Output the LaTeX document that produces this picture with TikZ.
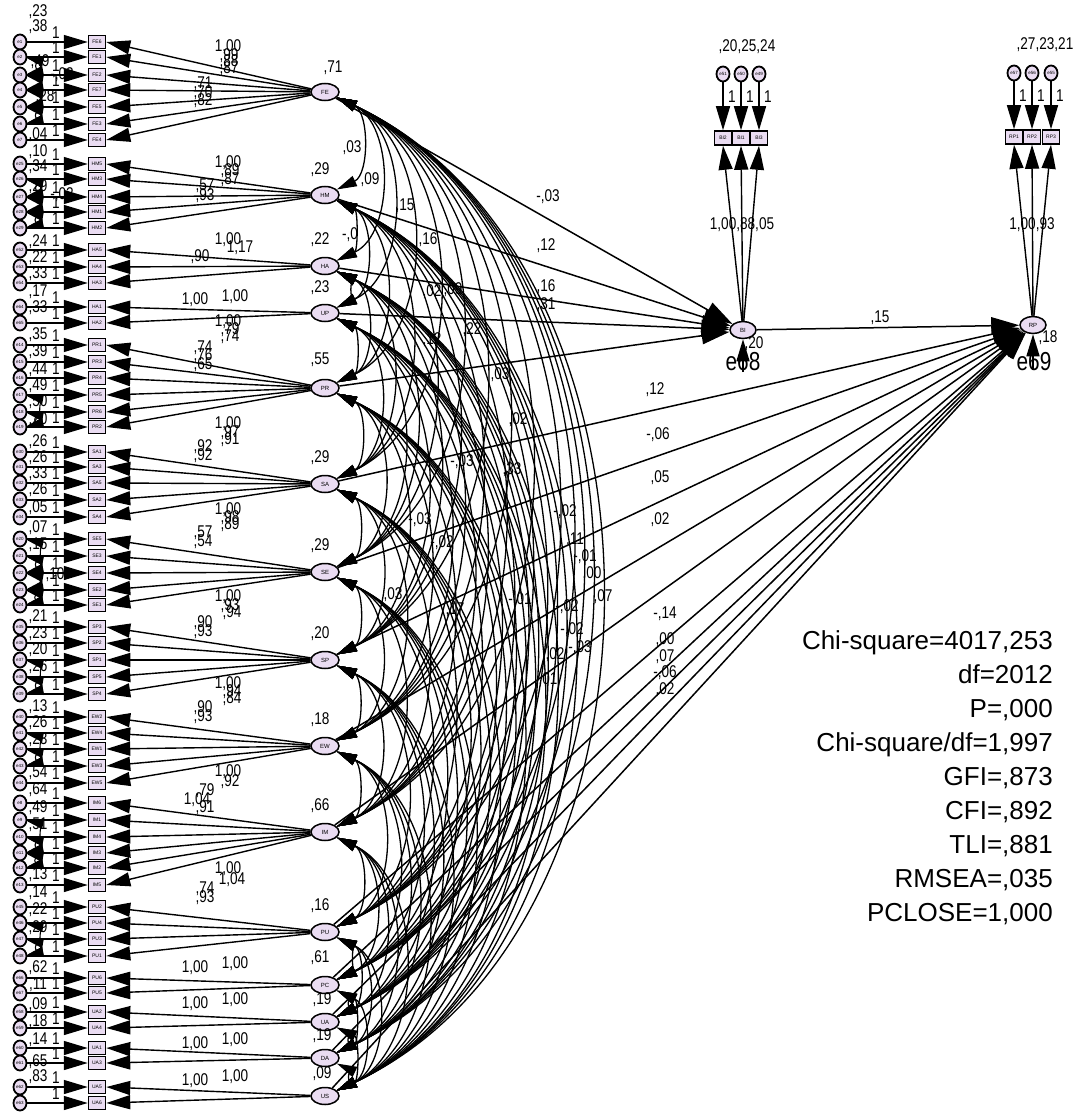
\documentclass[tikz,border=0pt]{standalone}
\usepackage{fontspec}
\setmainfont{Liberation Sans}
\newfontfamily\narrow[FakeStretch=0.8]{Liberation Sans}
\usetikzlibrary{arrows.meta,shapes.geometric}
\definecolor{lav}{HTML}{EADCF2}
\begin{document}
\begin{tikzpicture}[x=1pt,y=-1pt,
  errnode/.style={ellipse,draw,line width=1.8pt,fill=lav,minimum width=13pt,minimum height=15pt,inner sep=0pt,font=\fontsize{4.5}{5}\selectfont},
  obsnode/.style={rectangle,draw,line width=1.5pt,fill=lav,minimum width=17pt,minimum height=13pt,inner sep=0pt,font=\fontsize{5}{5}\selectfont},
  latnode/.style={ellipse,draw,line width=1.5pt,fill=lav,minimum width=28pt,minimum height=17pt,inner sep=0pt,font=\fontsize{6}{6}\selectfont},
  bigarr/.style={line width=1.4pt,-{Triangle[length=24pt,width=14pt]}},
  covarc/.style={line width=1.3pt,{Triangle[length=20pt,width=11pt]}-{Triangle[length=20pt,width=11pt]}},
  ecovarc/.style={line width=1.1pt,{Triangle[length=16pt,width=10pt]}-{Triangle[length=16pt,width=10pt]}},
  sarr/.style={line width=1.5pt,-{Triangle[length=28pt,width=17pt]}},
  lb/.style={font=\narrow\fontsize{17}{17}\selectfont,inner sep=0pt},
  fitt/.style={font=\fontsize{26}{26}\selectfont,inner sep=0pt,anchor=base east}]
\fill[white] (0,0) rectangle (1087,1113);
\useasboundingbox (0,0) rectangle (1087,1113);
% latent variables
\foreach \L/\y in {FE/92,HM/195,HA/266,UP/313,PR/388,SA/484,SE/572,SP/660,EW/746,IM/832,PU/932,PC/985,UA/1022,DA/1058,US/1096}
  \node[latnode] (\L) at (325,\y) {\L};
\node[latnode,minimum width=26pt] (BI) at (743,330) {BI};
\node[latnode,minimum width=26pt] (RP) at (1033,325) {RP};
% latent covariances
\foreach \aa [count=\i] in {FE,HM,HA,UP,PR,SA,SE,SP,EW,IM,PU,PC,UA,DA,US} {
  \foreach \cc [count=\j] in {FE,HM,HA,UP,PR,SA,SE,SP,EW,IM,PU,PC,UA,DA,US} {
    \ifnum\j>\i \draw[covarc] (\aa) to[bend left=65] (\cc); \fi
  }
}
% structural paths
\foreach \aa in {FE,HM,HA,UP,PR} \draw[sarr] (\aa) -- (BI);
\foreach \aa in {SA,SE,SP,EW,IM,PU,PC,UA,DA,US} \draw[sarr] (\aa) -- (RP);
\draw[sarr] (BI) -- (RP);
% indicators of exogenous latents
\foreach \ee/\bb/\y/\LL in {e1/FE6/42/FE,e2/FE1/57/FE,e3/FE2/75/FE,e4/FE7/90/FE,e5/FE5/107/FE,e6/FE3/124/FE,e7/FE4/140/FE,
 e25/HM5/164/HM,e26/HM3/179/HM,e27/HM4/197/HM,e28/HM1/212/HM,e29/HM2/228/HM,
 e52/HA5/250/HA,e53/HA4/267/HA,e54/HA3/283/HA,e64/HA1/307/UP,e65/HA2/323/UP,
 e14/PR1/345/PR,e15/PR3/362/PR,e16/PR4/378/PR,e17/PR5/395/PR,e18/PR6/412/PR,e19/PR2/427/PR,
 e30/SA1/452/SA,e31/SA3/467/SA,e32/SA5/483/SA,e33/SA2/500/SA,e34/SA4/517/SA,
 e20/SE5/539/SE,e21/SE3/556/SE,e22/SE4/573/SE,e23/SE2/590/SE,e24/SE1/605/SE,
 e35/SP3/627/SP,e36/SP2/643/SP,e37/SP1/660/SP,e38/SP5/677/SP,e39/SP4/694/SP,
 e40/EW2/717/EW,e41/EW4/733/EW,e42/EW1/749/EW,e43/EW3/766/EW,e44/EW5/783/EW,
 e8/IM6/803/IM,e9/IM1/820/IM,e10/IM4/837/IM,e11/IM3/853/IM,e12/IM2/868/IM,e13/IM5/885/IM,
 e45/PU2/907/PU,e46/PU4/923/PU,e47/PU3/939/PU,e48/PU1/956/PU,
 e66/PU6/978/PC,e67/PU5/993/PC,e58/UA2/1012/UA,e59/UA4/1028/UA,
 e60/UA1/1048/DA,e61/UA3/1063/DA,e62/UA5/1087/US,e63/UA6/1103/US}
{
  \node[errnode] (\ee) at (20,\y) {\ee};
  \node[obsnode] (\bb) at (97,\y) {\bb};
  \draw[bigarr] (\ee) -- (\bb);
  \draw[bigarr] (\LL) -- (\bb.east);
  \node[lb] (one\ee) at (56,\y-9) {1};
}
% error covariances
\foreach \aa/\cc in {e2/e4,e3/e5,e4/e6,e5/e6,e2/e3,e26/e28,e27/e29,e28/e29,e26/e27,e17/e19,e18/e19,
  e20/e22,e21/e23,e22/e24,e23/e24,e21/e22,e38/e39,e37/e39,e42/e43,e41/e43,e9/e11,e10/e12,e11/e12,e10/e11,e47/e48,e46/e48}
  \draw[ecovarc] (\aa) to[bend left=80] (\cc);
% endogenous indicators
\foreach \ee/\bb/\x in {e51/BI2/723,e50/BI1/741,e49/BI3/759} {
  \node[errnode] (\ee) at (\x,74) {\ee};
  \node[obsnode,minimum height=14pt] (\bb) at (\x,138) {\bb};
  \draw[bigarr] (\ee.south) -- (\bb.north);
  \draw[bigarr] (BI) -- (\bb.south);
  \node[lb] (one\ee) at (\x+9,97) {1};
}
\foreach \ee/\bb/\x in {e57/RP1/1014,e56/RP2/1032,e55/RP3/1051} {
  \node[errnode] (\ee) at (\x,73) {\ee};
  \node[obsnode,minimum height=14pt] (\bb) at (\x,137) {\bb};
  \draw[bigarr] (\ee.south) -- (\bb.north);
  \draw[bigarr] (RP) -- (\bb.south);
  \node[lb] (one\ee) at (\x+9,96) {1};
}
\node[lb] (bivar) at (747,47) {,20,25,24};
\node[lb] (rpvar) at (1045,45) {,27,23,21};
\node[lb] (bil) at (742,225) {1,00,88,05};
\node[lb] (rpl) at (1032,225) {1,00,93};
% disturbances
\node[font=\narrow\fontsize{26}{26}\selectfont,inner sep=0pt] (e68) at (743,362) {e68};
\node[font=\narrow\fontsize{26}{26}\selectfont,inner sep=0pt] (e69) at (1034,362) {e69};
\coordinate (d68) at (743,372);
\coordinate (d69) at (1033,370);
\draw[line width=1.5pt,-{Triangle[length=22pt,width=13pt]}] (d68) -- (BI);
\draw[line width=1.5pt,-{Triangle[length=22pt,width=13pt]}] (d69) -- (RP);
\node[lb] (bir2) at (754,344) {,20};
\node[lb] (rpr2) at (1048,338) {,18};
% path labels
\foreach \x/\y/\t [count=\k] in {548/197/{-,03},546/246/{,12},546/287/{,16},546/305/{,31},880/318/{,15},
  655/390/{,12},658/435/{-,06},660/478/{,05},660/520/{,02},665/614/{-,14},665/640/{,00},665/657/{,07},665/673/{-,06},665/690/{,02}}
  \node[lb] (p\k) at (\x,\y) {\t};
% latent variances
\foreach \x/\y/\t [count=\k] in {333/68/{,71},320/170/{,29},320/240/{,22},320/288/{,23},320/360/{,55},320/458/{,29},320/546/{,29},
  320/634/{,20},320/720/{,18},320/806/{,66},320/906/{,16},320/958/{,61},322/1000/{,19},322/1036/{,19},322/1074/{,09}}
  \node[lb] (v\k) at (\x,\y) {\t};
% loadings
\foreach \x/\y/\t [count=\k] in {228/47/{1,00},229/56/{,99},229/62/{,88},229/69/{,87},203/84/{,71},203/93/{,70},203/101/{,82},
  228/163/{1,00},230/171/{,89},230/180/{,87},205/186/{,57},205/196/{,93},
  228/240/{1,00},240/248/{1,17},200/257/{,90},195/300/{1,00},235/297/{1,00},
  228/322/{1,00},230/330/{,79},230/337/{,74},203/348/{,74},203/356/{,76},203/365/{,65},
  228/424/{1,00},230/433/{,97},230/440/{,91},203/447/{,92},203/456/{,92},
  228/510/{1,00},230/518/{,98},230/525/{,89},203/533/{,57},203/542/{,54},
  228/597/{1,00},230/606/{,93},232/613/{,94},203/623/{,90},203/632/{,93},
  228/684/{1,00},232/692/{,94},232/699/{,84},203/708/{,90},203/717/{,93},
  228/772/{1,00},230/782/{,92},205/791/{,79},197/800/{1,04},205/808/{,91},
  228/869/{1,00},232/880/{1,04},205/889/{,74},205/898/{,93},
  195/968/{1,00},235/964/{1,00},195/1004/{1,00},235/1000/{1,00},
  195/1044/{1,00},235/1040/{1,00},195/1081/{1,00},235/1077/{1,00}}
  \node[lb] (l\k) at (\x,\y) {\t};
% error variances
\foreach \x/\y/\t [count=\k] in {38/12/{,23},38/27/{,38},40/62/{,49},62/75/{-,03},45/97/{,28},38/135/{,04},38/152/{,10},
  38/167/{,34},38/187/{,29},62/195/{-,02},38/242/{,24},38/258/{,22},38/274/{,33},38/292/{,17},38/308/{,33},
  38/335/{,35},38/352/{,39},38/370/{,44},38/386/{,49},38/402/{,50},38/420/{,20},38/442/{,26},38/458/{,26},
  38/474/{,33},38/490/{,26},38/508/{,05},38/528/{,07},38/545/{,15},55/575/{,10},38/617/{,21},38/634/{,23},
  38/650/{,20},38/667/{,26},38/707/{,13},38/723/{,26},38/740/{,23},38/773/{,54},38/790/{,64},38/808/{,49},
  38/825/{,51},38/875/{,13},38/893/{,14},38/910/{,22},38/928/{,29},38/968/{,62},38/985/{,11},38/1005/{,09},
  38/1022/{,18},38/1040/{,14},38/1062/{,65},38/1077/{,83}}
  \node[lb] (ev\k) at (\x,\y) {\t};
% covariance labels
\foreach \x/\y/\t [count=\k] in {352/148/{,03},370/180/{,09},405/206/{,15},428/240/{,16},453/290/{,09},350/235/{-,0},
  432/292/{,02},472/330/{,22},432/340/{,12},500/375/{,03},518/420/{,02},512/470/{,33},565/512/{-,02},575/540/{,11},
  585/557/{-,01},592/574/{,00},603/597/{,07},567/607/{-,02},572/630/{-,02},580/648/{-,03},555/655/{,02},548/680/{,01},
  420/520/{-,03},442/543/{-,02},462/462/{-,03},393/595/{,03},455/610/{,17},520/600/{-,01}}
  \node[lb] (c\k) at (\x,\y) {\t};
% fit statistics
\foreach \t [count=\i] in {{Chi-square=4017,253},{df=2012},{P=,000},{Chi-square/df=1,997},{GFI=,873},{CFI=,892},{TLI=,881},{RMSEA=,035},{PCLOSE=1,000}}
  \node[fitt] (f\i) at (1053,615+34*\i) {\t};
\end{tikzpicture}
\end{document}
